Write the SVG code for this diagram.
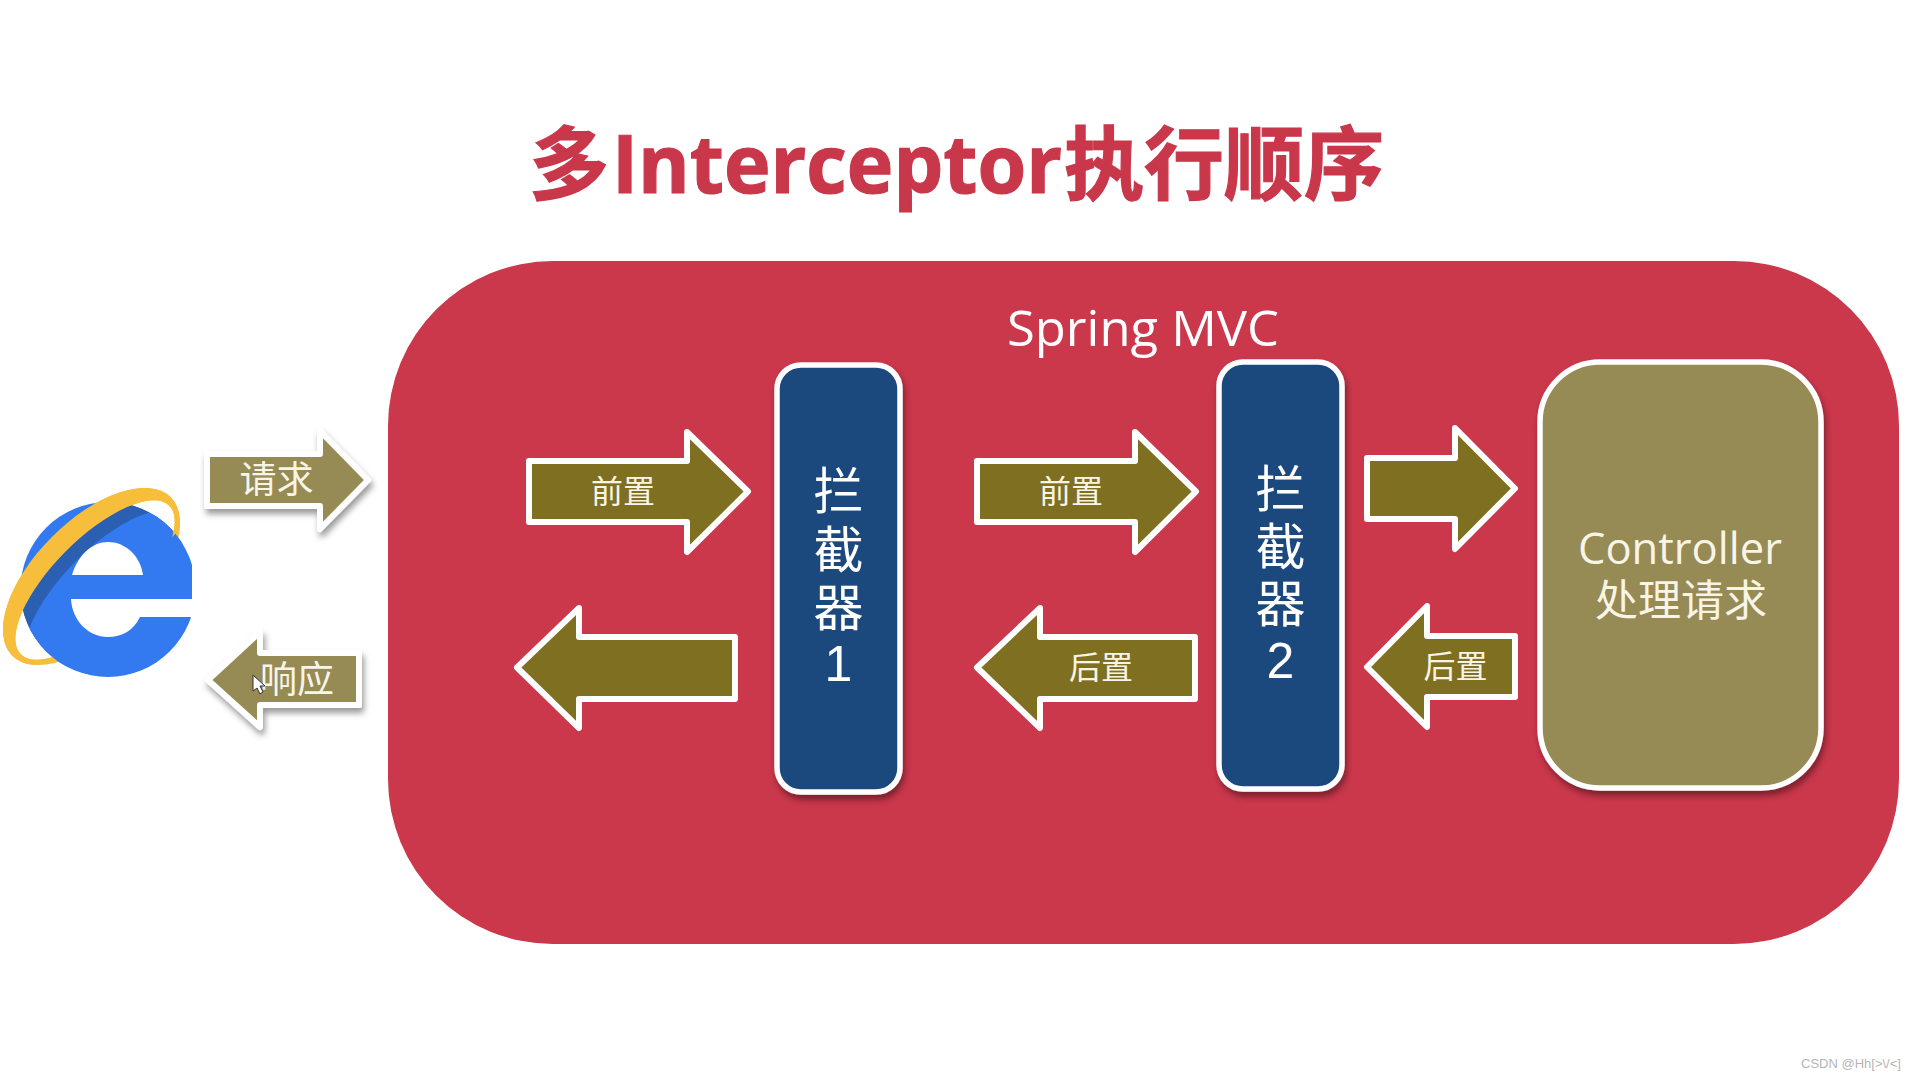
<svg xmlns="http://www.w3.org/2000/svg" width="1920" height="1080" viewBox="0 0 1920 1080">
<style>
text{font-family:"Liberation Sans","Noto Sans CJK SC",sans-serif;text-anchor:middle;fill:#fff}
.ol{font-family:"Open Sans","Noto Sans CJK SC",sans-serif}
.arrow{fill:#7f6f20;stroke:#fff;stroke-width:6;stroke-linejoin:round}
.small{fill:#968a55;filter:url(#sh)}
.box{stroke:#fff;stroke-width:5.500;filter:url(#sh)}
.cjk{font-family:"Noto Sans CJK SC",sans-serif}
.lab{font-size:32px;fill:#f8f5e6;font-family:"Noto Sans CJK SC",sans-serif}
.v{font-size:50px}
#title{text-anchor:start;font-size:80px;font-weight:700;fill:#c9374b;stroke:#c9374b;stroke-width:1.200}
#title .lat{font-family:"Open Sans",sans-serif;font-size:81px}
.ring{fill:#f6be3b;fill-rule:evenodd}
</style>
<defs>
<filter id="sh" x="-20%" y="-20%" width="140%" height="140%"><feDropShadow dx="2" dy="5" stdDeviation="3" flood-color="#000" flood-opacity="0.4"/></filter>
<clipPath id="ieclip"><rect x="0" y="480" width="192" height="210"/></clipPath>
<clipPath id="globe"><circle cx="108" cy="589.5" r="87.5"/></clipPath>
<clipPath id="front"><path d="M52 658L177 532L200 470L0 470L-10 690Z"/></clipPath>
<path id="ringshape" d="M0 -56A112 56 0 1 1 0 56A112 56 0 1 1 0 -56ZM0 -36A105 41 0 1 0 0 46A105 41 0 1 0 0 -36Z"/>
</defs>
<rect width="1920" height="1080" fill="#fff"/>
<text id="title" y="193"><tspan x="529">多</tspan><tspan class="lat" x="612" textLength="450" lengthAdjust="spacingAndGlyphs">Interceptor</tspan><tspan x="1064">执行顺序</tspan></text>
<g id="spring-mvc">
<rect x="388" y="261" width="1511" height="683" rx="165" fill="#cb374b"/>
<text class="ol" x="1143" y="346" font-size="50" textLength="272" lengthAdjust="spacingAndGlyphs">Spring MVC</text>
</g>
<g id="browser" clip-path="url(#ieclip)">
<use href="#ringshape" class="ring" transform="translate(91.500 576.500) rotate(-45)"/>
<g clip-path="url(#globe)">
<rect x="10" y="490" width="190" height="200" fill="#337af0"/>
<ellipse cx="0" cy="0" rx="105" ry="41" fill="#2a5fb2" transform="translate(95 580) rotate(-45)"/>
<ellipse cx="0" cy="0" rx="105" ry="41" fill="#337af0" transform="translate(105 590) rotate(-45)"/>
</g>
<path d="M72 575C78 555 92 542 108 542C125 542 140 555 143 575Z" fill="#fff"/>
<path d="M71 599L193 599L193 617L140 617C133 631 122 637 108 637C88 637 72 620 71 599Z" fill="#fff"/>
<g clip-path="url(#front)"><use href="#ringshape" class="ring" transform="translate(91.500 576.500) rotate(-45)"/></g>
</g>
<g id="connectors">
<path class="arrow small" d="M207 454H320V431L368 480L320 529V506H207Z"/>
<path class="arrow small" d="M359 653H260V632L208 680L260 727V705H359Z"/>
<path class="arrow" d="M529 461H687V432L748 491.500L687 552V522H529Z"/>
<path class="arrow" d="M977 461H1135V432L1196 491.500L1135 552V522H977Z"/>
<path class="arrow" d="M1367 458H1455V428L1515 488.500L1455 549V519H1367Z"/>
<path class="arrow" d="M735 637H579V608L517 667.500L579 728V699H735Z"/>
<path class="arrow" d="M1195 637H1040V608L977 667.500L1040 728V699H1195Z"/>
<path class="arrow" d="M1515 636H1427V606L1367 667L1427 727V697H1515Z"/>
</g>
<text class="lab" x="276.500" y="493" style="font-size:37px">请求</text>
<text class="lab" x="297" y="693" style="font-size:37px">响应</text>
<path id="cursor" d="M253 675V691L257 688L260 694L263 692L260 686L265 686Z" fill="#fff" stroke="#333" stroke-width="1"/>
<text class="lab" x="623" y="503">前置</text>
<text class="lab" x="1071" y="503">前置</text>
<text class="lab" x="1101" y="679">后置</text>
<text class="lab" x="1455.500" y="678">后置</text>
<g id="interceptor1">
<rect class="box" x="777" y="365" width="123" height="427" rx="24" fill="#1f497d"/>
<text class="v" x="838.500" y="509">拦</text><text class="v" x="838.500" y="568">截</text><text class="v" x="838.500" y="626">器</text><text class="v" x="838.500" y="681">1</text>
</g>
<g id="interceptor2">
<rect class="box" x="1219" y="362" width="123" height="427" rx="24" fill="#1f497d"/>
<text class="v" x="1280.500" y="507">拦</text><text class="v" x="1280.500" y="565">截</text><text class="v" x="1280.500" y="622">器</text><text class="v" x="1280.500" y="678">2</text>
</g>
<g id="controller">
<rect class="box" x="1540" y="362" width="281" height="426" rx="60" fill="#968a55"/>
<text class="ol" x="1680" y="564" font-size="44" textLength="204" lengthAdjust="spacingAndGlyphs" style="fill:#f8f5e6">Controller</text>
<text class="cjk" x="1681" y="616" font-size="43" style="fill:#f8f5e6">处理请求</text>
</g>
<text id="watermark" x="1851" y="1068" font-size="13" style="fill:#b5b5b5">CSDN @Hh[&gt;\/&lt;]</text>
</svg>
